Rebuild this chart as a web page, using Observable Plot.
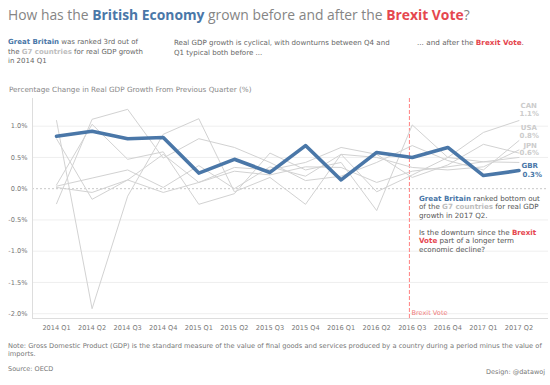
<!DOCTYPE html>
<html><head><meta charset="utf-8">
<script src="https://cdn.jsdelivr.net/npm/d3@7"></script>
<script src="https://cdn.jsdelivr.net/npm/@observablehq/plot@0.6"></script>
<style>
body{margin:0;background:#fff;}
#wrap{position:relative;width:550px;height:385px;overflow:hidden;font-family:"DejaVu Sans",Verdana,sans-serif;}
.blk{position:absolute;white-space:nowrap;}
.blk span.l{display:inline-block;}
.blue{color:#4a77a8;font-weight:bold;}
.red{color:#e5474f;font-weight:bold;}
.g7{color:#bdbdbd;font-weight:bold;}
svg{position:absolute;left:0;top:0;}
</style></head><body><div id="wrap"></div>
<script>
// ---- data ----
const quarters = ["2014 Q1","2014 Q2","2014 Q3","2014 Q4","2015 Q1","2015 Q2","2015 Q3","2015 Q4","2016 Q1","2016 Q2","2016 Q3","2016 Q4","2017 Q1","2017 Q2"];
const gbr = [0.84,0.92,0.80,0.82,0.25,0.47,0.26,0.69,0.14,0.58,0.50,0.66,0.21,0.29];
const usa = [-0.24,1.11,1.27,0.49,0.80,0.66,0.42,0.13,0.20,0.42,0.69,0.45,0.30,0.77];
const can = [0.06,1.03,0.47,0.59,-0.25,-0.08,0.57,0.30,0.42,-0.35,1.02,0.50,0.90,1.09];
const jpn = [1.09,-1.92,-0.12,0.87,1.12,-0.05,0.18,-0.25,0.55,0.50,0.34,0.30,0.35,0.62];
const deu = [0.80,-0.17,0.14,0.55,0.10,0.34,0.30,0.42,0.66,0.55,0.18,0.38,0.71,0.57];
const fra = [0.04,0.17,0.30,0.02,0.37,0.00,0.35,0.20,0.55,-0.05,0.22,0.50,0.43,0.50];
const ita = [0.02,-0.06,0.14,-0.06,0.10,0.28,0.22,0.35,0.34,0.10,0.28,0.35,0.43,0.42];
const grayCountries = ["USA","CAN","JPN","DEU","FRA","ITA"];
const grayValues = [usa,can,jpn,deu,fra,ita];
const yTicks = [-2,-1.5,-1,-0.5,0,0.5,1];
const brexitPos = 9.92; // Brexit vote, late 2016 Q2 on the quarter axis

// ---- build ----
const wrap = document.getElementById("wrap");
const grayRows = [];
grayCountries.forEach((c,k)=>grayValues[k].forEach((v,i)=>grayRows.push({country:c,i,v})));
const gbrRows = gbr.map((v,i)=>({country:"GBR",i,v}));
const allVals = {USA:usa,CAN:can,JPN:jpn,GBR:gbr};

const labelMarks = [];
const labelOff = {CAN:[-15,-7],USA:[-13,-5],JPN:[-4.5,3],GBR:[-4.5,4]};
["CAN","USA","JPN","GBR"].forEach(c=>{
  const last = allVals[c][13];
  const col = c==="GBR" ? "#4a77a8" : "#cccccc";
  labelMarks.push(Plot.text([last],{x:()=>13,y:d=>d,text:()=>c,dx:c==="GBR"?19:18,dy:labelOff[c][0],textAnchor:"end",fill:col,fontWeight:"bold",fontSize:7}));
  labelMarks.push(Plot.text([last],{x:()=>13,y:d=>d,text:d=>d.toFixed(1)+"%",dx:c==="GBR"?23:20,dy:labelOff[c][1],textAnchor:"end",fill:col,fontWeight:"bold",fontSize:7}));
});

const xDom = [-0.675,13.83], yDom = [-2.077,1.443];
const chart = Plot.plot({
  width:550, height:385,
  marginTop:98, marginBottom:67, marginLeft:32, marginRight:2,
  style:{fontFamily:"DejaVu Sans, Verdana, sans-serif", background:"transparent"},
  x:{domain:xDom, axis:null},
  y:{domain:yDom, axis:null},
  marks:[
    Plot.ruleY(yTicks.filter(d=>d!==0),{stroke:"#efefef",strokeWidth:1}),
    Plot.ruleY([0],{stroke:"#c8c8c8",strokeDasharray:"2,2"}),
    Plot.ruleX([xDom[0]],{stroke:"#dddddd"}),
    Plot.ruleY([yDom[0]],{stroke:"#dddddd"}),
    Plot.ruleX([brexitPos],{stroke:"#ff8080",strokeDasharray:"4,2",strokeWidth:1}),
    Plot.text([brexitPos],{x:d=>d,frameAnchor:"bottom",text:()=>"Brexit Vote",textAnchor:"start",dx:2,dy:-4,fill:"#f07a7a",fontSize:6.6}),
    Plot.lineY(grayRows,{x:"i",y:"v",z:"country",stroke:"#d2d2d2",strokeWidth:1}),
    Plot.lineY(gbrRows,{x:"i",y:"v",stroke:"#4a77a8",strokeWidth:3.6,strokeLinejoin:"round",strokeLinecap:"round"}),
    Plot.text(yTicks,{x:()=>xDom[0],y:d=>d,text:d=>d.toFixed(1)+"%",textAnchor:"end",dx:-5,fill:"#777",fontSize:6.6}),
    Plot.text(d3.range(quarters.length),{x:d=>d,y:()=>yDom[0],text:d=>quarters[d],dy:9,fill:"#777",fontSize:6.6}),
    ...labelMarks
  ]
});
wrap.appendChild(chart);

function block(lines,o){
  const d=document.createElement("div");
  d.className="blk";
  d.style.left=o.x+"px";
  d.style.top=(o.y-o.lh/2)+"px";
  d.style.lineHeight=o.lh+"px";
  d.style.fontSize=o.size+"px";
  d.style.color=o.color||"#666";
  if(o.fam) d.style.fontFamily=o.fam;
  d.innerHTML=lines.map(l=>'<div><span class="l">'+l+'</span></div>').join("");
  wrap.appendChild(d);
  if(o.w){
    const s=d.querySelector("span.l");
    const w=s.getBoundingClientRect().width;
    d.style.fontSize=(o.size*o.w/w)+"px";
  }
  if(o.right!==undefined){
    const w=d.getBoundingClientRect().width;
    d.style.left=(o.right-w)+"px";
  }
  return d;
}

block(['How has the <span class="blue">British Economy</span> grown before and after the <span class="red">Brexit Vote</span>?'],
  {x:8,y:15,lh:20,size:16,w:462,color:"#858585",fam:"'Open Sans','Noto Sans',sans-serif"});
block(['<span class="blue">Great Britain</span> was ranked 3rd out of','the <span class="g7">G7 countries</span> for real GDP growth','in 2014 Q1'],
  {x:8,y:43,lh:9.2,size:7,w:130,color:"#666"});
block(['Real GDP growth is cyclical, with downturns between Q4 and','Q1 typical both before ...'],
  {x:174,y:43,lh:9.2,size:7,w:216,color:"#666"});
block(['... and after the <span class="red">Brexit Vote</span>.'],
  {x:417,y:43,lh:9.2,size:7,w:107,color:"#666"});
block(['Percentage Change in Real GDP Growth From Previous Quarter (%)'],
  {x:9,y:89,lh:9,size:7,w:243,color:"#888"});
block(['<span class="blue">Great Britain</span> ranked bottom out','of the <span class="g7">G7 countries</span> for real GDP','growth in 2017 Q2.','','Is the downturn since the <span class="red">Brexit</span>','<span class="red">Vote</span> part of a longer term','economic decline?'],
  {x:419,y:199,lh:8.5,size:7.5,w:121,color:"#555"});
block(['Note: Gross Domestic Product (GDP) is the standard measure of the value of final goods and services produced by a country during a period minus the value of','imports.'],
  {x:8,y:346,lh:8.6,size:6.5,w:535,color:"#777"});
block(['Source: OECD'],{x:8,y:369,lh:9,size:6.5,color:"#777"});
block(['Design: @datawoj'],{x:0,y:372,lh:9,size:6.5,color:"#777",right:545});
</script></body></html>
